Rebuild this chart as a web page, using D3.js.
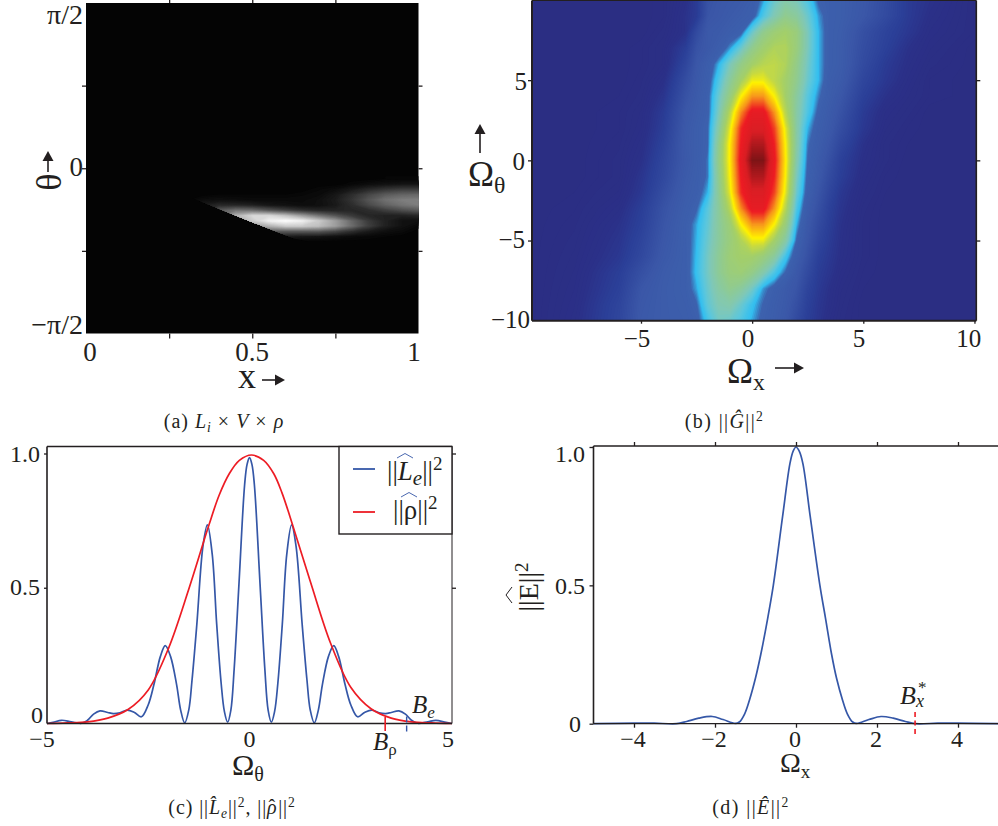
<!DOCTYPE html>
<html>
<head>
<meta charset="utf-8">
<style>
  body { margin: 0; background: #fff; }
  text { font-family: "Liberation Serif", serif; fill: #231f20; }
</style>
<script src="https://cdn.jsdelivr.net/npm/d3@7"></script>
</head>
<body>
<svg id="chart" width="998" height="826"></svg>
<script>
// panel a: bright patch of the gray image, everything else is black
const aCols = [0.3, 0.35, 0.4, 0.45, 0.5, 0.55, 0.6, 0.65, 0.7, 0.75, 0.8, 0.85, 0.9, 0.95, 1];
const aRows = [-0.1, -0.15, -0.2, -0.25, -0.3, -0.35, -0.4, -0.45, -0.5, -0.55, -0.6, -0.65, -0.7];
const aValues = [
  [0, 0, 0, 0, 0, 0, 0, 0, 0, 0, 0, 0, 0.01, 0.01, 0.01],
  [0, 0, 0, 0, 0, 0, 0, 0, 0, 0, 0.02, 0.04, 0.06, 0.07, 0.07],
  [0, 0, 0, 0, 0, 0, 0, 0, 0.02, 0.04, 0.09, 0.15, 0.2, 0.23, 0.23],
  [0, 0, 0.01, 0.01, 0.01, 0.01, 0.01, 0.02, 0.03, 0.08, 0.17, 0.27, 0.35, 0.39, 0.4],
  [0, 0.04, 0.05, 0.04, 0.03, 0.03, 0.03, 0.03, 0.05, 0.1, 0.2, 0.33, 0.44, 0.49, 0.5],
  [0, 0.1, 0.15, 0.14, 0.12, 0.08, 0.06, 0.04, 0.05, 0.09, 0.17, 0.28, 0.38, 0.45, 0.49],
  [0, 0.12, 0.35, 0.45, 0.42, 0.33, 0.25, 0.18, 0.14, 0.13, 0.14, 0.17, 0.24, 0.3, 0.35],
  [0, 0.1, 0.4, 0.7, 0.85, 0.85, 0.75, 0.6, 0.45, 0.33, 0.22, 0.14, 0.12, 0.12, 0.15],
  [0, 0.05, 0.3, 0.6, 0.8, 0.95, 1, 0.95, 0.8, 0.62, 0.4, 0.22, 0.12, 0.06, 0.05],
  [0, 0, 0.15, 0.4, 0.6, 0.7, 0.8, 0.8, 0.75, 0.62, 0.42, 0.24, 0.12, 0.06, 0.02],
  [0, 0, 0.05, 0.2, 0.35, 0.35, 0.35, 0.35, 0.35, 0.28, 0.18, 0.1, 0.05, 0.03, 0],
  [0, 0, 0, 0.05, 0.1, 0.1, 0.1, 0.08, 0.07, 0.05, 0.03, 0.02, 0.01, 0, 0],
  [0, 0, 0, 0, 0, 0, 0, 0, 0, 0, 0, 0, 0, 0, 0]
];
// lower cut-off of the patch
const aEdgeX = [0, 0.3, 0.328, 0.45, 0.623, 0.7, 1];
const aEdgeTheta = [-0.24, -0.26, -0.295, -0.45, -0.666, -0.72, -0.8];

// panel b: spectrum image, rows top to bottom
const bCols = [-10, -8, -6, -5, -4, -3, -2.5, -2, -1.5, -1, -0.5, 0, 0.5, 1, 1.5, 2, 2.5, 3, 3.5, 4, 5, 6, 7, 8, 10];
const bRows = [10, 9, 8, 7, 6, 5, 4, 3, 2, 1, 0, -1, -2, -3, -4, -5, -6, -7, -8, -9, -10];
const bValues = [
  [0, 0, 0, 0, 0.01, 0.05, 0.09, 0.18, 0.2, 0.21, 0.22, 0.24, 0.29, 0.36, 0.4, 0.38, 0.33, 0.265, 0.25, 0.24, 0.205, 0.155, 0.09, 0.06, 0.01],
  [0, 0, 0, 0, 0.01, 0.06, 0.09, 0.19, 0.205, 0.22, 0.235, 0.25, 0.33, 0.39, 0.44, 0.42, 0.36, 0.29, 0.25, 0.24, 0.2, 0.15, 0.09, 0.05, 0.01],
  [0, 0, 0, 0, 0.02, 0.06, 0.15, 0.21, 0.22, 0.24, 0.26, 0.36, 0.44, 0.48, 0.5, 0.47, 0.38, 0.3, 0.25, 0.235, 0.17, 0.12, 0.08, 0.04, 0.01],
  [0, 0, 0, 0.01, 0.03, 0.1, 0.18, 0.21, 0.24, 0.29, 0.36, 0.44, 0.49, 0.52, 0.52, 0.47, 0.38, 0.3, 0.25, 0.23, 0.16, 0.11, 0.06, 0.03, 0],
  [0, 0, 0, 0.01, 0.03, 0.13, 0.2, 0.24, 0.3, 0.38, 0.45, 0.5, 0.53, 0.54, 0.52, 0.45, 0.37, 0.3, 0.25, 0.23, 0.15, 0.09, 0.05, 0.02, 0],
  [0, 0, 0, 0.015, 0.05, 0.16, 0.21, 0.25, 0.33, 0.42, 0.5, 0.585, 0.585, 0.54, 0.5, 0.44, 0.36, 0.3, 0.24, 0.22, 0.13, 0.08, 0.04, 0.01, 0],
  [0, 0, 0.005, 0.02, 0.07, 0.18, 0.22, 0.26, 0.36, 0.46, 0.6, 0.7, 0.7, 0.6, 0.5, 0.42, 0.34, 0.28, 0.235, 0.2, 0.11, 0.06, 0.03, 0.01, 0],
  [0, 0, 0.01, 0.03, 0.09, 0.2, 0.23, 0.26, 0.38, 0.53, 0.71, 0.83, 0.83, 0.7, 0.53, 0.41, 0.33, 0.26, 0.22, 0.18, 0.09, 0.04, 0.02, 0, 0],
  [0, 0, 0.01, 0.035, 0.1, 0.21, 0.24, 0.27, 0.41, 0.58, 0.79, 0.87, 0.87, 0.77, 0.58, 0.41, 0.3, 0.245, 0.21, 0.16, 0.08, 0.03, 0.01, 0, 0],
  [0, 0, 0.015, 0.045, 0.115, 0.215, 0.24, 0.27, 0.44, 0.61, 0.81, 0.93, 0.93, 0.8, 0.6, 0.41, 0.28, 0.235, 0.19, 0.135, 0.06, 0.02, 0.005, 0, 0],
  [0, 0, 0.02, 0.055, 0.13, 0.21, 0.24, 0.28, 0.45, 0.61, 0.83, 0.98, 0.98, 0.82, 0.61, 0.4, 0.27, 0.22, 0.17, 0.11, 0.05, 0.02, 0, 0, 0],
  [0, 0, 0.02, 0.07, 0.14, 0.22, 0.245, 0.28, 0.44, 0.6, 0.81, 0.93, 0.93, 0.8, 0.6, 0.38, 0.26, 0.21, 0.15, 0.1, 0.04, 0.01, 0, 0, 0],
  [0, 0.005, 0.03, 0.08, 0.16, 0.23, 0.25, 0.3, 0.43, 0.58, 0.79, 0.87, 0.87, 0.77, 0.58, 0.36, 0.25, 0.19, 0.13, 0.08, 0.03, 0.005, 0, 0, 0],
  [0, 0.01, 0.045, 0.1, 0.18, 0.24, 0.27, 0.34, 0.42, 0.53, 0.71, 0.83, 0.83, 0.7, 0.53, 0.33, 0.23, 0.17, 0.11, 0.07, 0.02, 0, 0, 0, 0],
  [0, 0.015, 0.06, 0.11, 0.19, 0.25, 0.295, 0.35, 0.42, 0.48, 0.6, 0.7, 0.7, 0.6, 0.47, 0.3, 0.21, 0.15, 0.1, 0.06, 0.015, 0, 0, 0, 0],
  [0, 0.02, 0.07, 0.125, 0.2, 0.25, 0.3, 0.36, 0.42, 0.47, 0.52, 0.585, 0.585, 0.5, 0.41, 0.27, 0.195, 0.13, 0.09, 0.055, 0.015, 0, 0, 0, 0],
  [0, 0.025, 0.08, 0.14, 0.21, 0.25, 0.305, 0.37, 0.43, 0.48, 0.5, 0.5, 0.47, 0.42, 0.32, 0.24, 0.175, 0.11, 0.08, 0.05, 0.015, 0, 0, 0, 0],
  [0, 0.03, 0.1, 0.17, 0.225, 0.25, 0.31, 0.37, 0.43, 0.47, 0.48, 0.45, 0.4, 0.33, 0.27, 0.21, 0.15, 0.095, 0.07, 0.04, 0.01, 0, 0, 0, 0],
  [0, 0.035, 0.11, 0.195, 0.23, 0.25, 0.295, 0.36, 0.41, 0.44, 0.42, 0.37, 0.29, 0.255, 0.22, 0.19, 0.125, 0.085, 0.055, 0.03, 0.005, 0, 0, 0, 0],
  [0, 0.04, 0.125, 0.205, 0.23, 0.245, 0.27, 0.35, 0.39, 0.4, 0.36, 0.31, 0.27, 0.24, 0.215, 0.17, 0.11, 0.075, 0.05, 0.025, 0, 0, 0, 0, 0],
  [0, 0.045, 0.13, 0.21, 0.23, 0.24, 0.255, 0.32, 0.37, 0.36, 0.33, 0.295, 0.26, 0.235, 0.205, 0.15, 0.1, 0.07, 0.04, 0.02, 0, 0, 0, 0, 0]
];
const bLevels = [0, 0.05, 0.1, 0.2, 0.27, 0.3, 0.34, 0.38, 0.44, 0.5, 0.55, 0.6, 0.7, 0.8, 0.88, 0.95, 0.98];
const bColors = ["#2b2e83", "#2b3088", "#2b3f98", "#3b58a8", "#3d62ae", "#33bff0", "#5cc7dc", "#7fc8b8", "#92cb8c", "#a4cf68", "#c8da40", "#fff200", "#f7941d", "#ed1c24", "#d81e24", "#9a161a", "#7a1416"];

// panel c
const leX = [-5, -4.85, -4.64, -4.4, -4.14, -4, -3.85, -3.69, -3.5, -3.36, -3.2, -3.02, -2.85, -2.67, -2.5, -2.36, -2.2, -2.08, -1.95, -1.8, -1.7, -1.6, -1.5, -1.42, -1.3, -1.15, -1.04, -0.92, -0.81, -0.7, -0.62, -0.54, -0.46, -0.38, -0.26, -0.12, -0.06, 0,
  0.06, 0.12, 0.26, 0.38, 0.46, 0.54, 0.62, 0.7, 0.81, 0.92, 1.04, 1.15, 1.3, 1.42, 1.5, 1.6, 1.7, 1.8, 1.95, 2.08, 2.2, 2.36, 2.5, 2.67, 2.85, 3.02, 3.2, 3.36, 3.5, 3.69, 3.85, 4, 4.15, 4.4, 4.6, 4.85, 5];
const leY = [0, 0.004, 0.012, 0.006, 0.001, 0.012, 0.035, 0.047, 0.041, 0.037, 0.04, 0.05, 0.042, 0.025, 0.07, 0.145, 0.25, 0.29, 0.25, 0.145, 0.05, 0.002, 0.05, 0.16, 0.37, 0.66, 0.74, 0.63, 0.37, 0.15, 0.045, 0.005, 0.05, 0.2, 0.52, 0.89, 0.965, 0.99,
  0.965, 0.89, 0.52, 0.2, 0.05, 0.005, 0.045, 0.15, 0.37, 0.63, 0.74, 0.66, 0.37, 0.16, 0.05, 0.002, 0.05, 0.145, 0.25, 0.29, 0.25, 0.145, 0.07, 0.025, 0.042, 0.05, 0.04, 0.037, 0.041, 0.047, 0.035, 0.012, 0.001, 0.006, 0.012, 0.004, 0];
const rhoX = [-5, -4.5, -4, -3.5, -3, -2.5, -2, -1.5, -1, -0.75, -0.5, -0.25, 0.05, 0.35, 0.6, 0.8, 1, 1.5, 2, 2.5, 3, 3.5, 4, 4.5, 5];
const rhoY = [0, 0.002, 0.006, 0.02, 0.052, 0.125, 0.28, 0.5, 0.74, 0.85, 0.93, 0.98, 1, 0.98, 0.93, 0.86, 0.77, 0.53, 0.3, 0.135, 0.055, 0.02, 0.006, 0.002, 0];
const bRho = 3.35;
const bE = 3.88;

// panel d
const eX = [-5, -4, -3.5, -2.95, -2.7, -2.4, -2.07, -1.8, -1.5, -1.4, -1.27, -1.15, -1, -0.87, -0.7, -0.56, -0.33, -0.15, -0.07, 0, 0.08, 0.17, 0.35, 0.59, 0.73, 0.88, 1, 1.15, 1.27, 1.4, 1.5, 1.8, 2.1, 2.4, 2.7, 2.95, 3.5, 4, 5];
const eY = [0, 0.002, 0.002, 0, 0.008, 0.02, 0.026, 0.015, 0.001, 0.006, 0.035, 0.085, 0.165, 0.25, 0.38, 0.5, 0.75, 0.94, 0.985, 1, 0.985, 0.94, 0.75, 0.5, 0.38, 0.25, 0.165, 0.085, 0.035, 0.006, 0.001, 0.015, 0.026, 0.02, 0.008, 0, 0.002, 0.002, 0];
const bX = 2.94;

const ink = "#231f20";
const blue = "#3557a7";
const red = "#ed1c24";
const svg = d3.select("#chart");

// text made of pieces, piece = [string, {i, sub, sup, size, dx}]
function rich(parent, x, y, parts, size, anchor) {
  const t = parent.append("text").attr("x", x).attr("y", y)
    .attr("font-size", size).attr("text-anchor", anchor || "start");
  let shift = 0;
  parts.forEach(function(p) {
    const o = p[1] || {};
    const s = o.sub ? size * 0.2 : (o.sup ? -size * 0.36 : 0);
    t.append("tspan")
      .attr("dx", o.dx || 0)
      .attr("dy", s - shift)
      .attr("font-size", o.size || ((o.sub || o.sup) ? size * 0.68 : size))
      .attr("font-style", o.i ? "italic" : "normal")
      .text(p[0]);
    shift = s;
  });
  return t;
}

function arrow(x1, y1, x2, y2) {
  const a = Math.atan2(y2 - y1, x2 - x1);
  const len = 10, w = 5.5;
  const bx = x2 - len * Math.cos(a), by = y2 - len * Math.sin(a);
  svg.append("line").attr("x1", x1).attr("y1", y1).attr("x2", bx).attr("y2", by)
    .attr("stroke", ink).attr("stroke-width", 1.6);
  svg.append("path").attr("fill", ink).attr("d", "M" + x2 + "," + y2 +
    "L" + (bx + w * Math.sin(a)) + "," + (by - w * Math.cos(a)) +
    "L" + (bx - w * Math.sin(a)) + "," + (by + w * Math.cos(a)) + "Z");
}

function frameLine(x1, y1, x2, y2, w) {
  svg.append("line").attr("x1", x1).attr("y1", y1).attr("x2", x2).attr("y2", y2)
    .attr("stroke", ink).attr("stroke-width", w);
}

// tick marks only, labels are placed by hand like in the figure
function axis(gen, tx, ty) {
  const g = svg.append("g").attr("transform", "translate(" + tx + "," + ty + ")").call(gen);
  g.select(".domain").remove();
  g.selectAll("line").attr("stroke", ink).attr("stroke-width", 1.3);
  return g;
}

// filled contours of a value grid, placed through the data scales
function contourImage(parent, cols, rows, values, x, y, color, thresholds) {
  const flat = values.flat();
  const px = d3.scaleLinear().domain(d3.range(cols.length)).range(cols.map(x));
  const py = d3.scaleLinear().domain(d3.range(rows.length)).range(rows.map(y));
  const projection = d3.geoTransform({
    point: function(a, b) { this.stream.point(px(a - 0.5), py(b - 0.5)); }
  });
  const path = d3.geoPath(projection);
  const bands = d3.contours().size([cols.length, rows.length]).thresholds(thresholds)(flat);
  parent.selectAll("path.band").data(bands).enter().append("path")
    .attr("class", "band")
    .attr("d", path)
    .attr("fill", function(d) { return color(d.value); });
}

// ---------- panel a ----------
const ax = d3.scaleLinear().domain([0, 1]).range([86, 418.5]);
const ay = d3.scaleLinear().domain([-Math.PI / 2, Math.PI / 2]).range([333.5, 3]);
svg.append("clipPath").attr("id", "clipA").append("path")
  .attr("d", d3.line()(
    aEdgeX.map(function(d, i) { return [ax(d), ay(aEdgeTheta[i])]; })
      .concat([[ax(1), ay(Math.PI / 2)], [ax(0), ay(Math.PI / 2)]])
  ));
svg.append("rect").attr("x", ax(0)).attr("y", ay(Math.PI / 2))
  .attr("width", ax(1) - ax(0)).attr("height", ay(-Math.PI / 2) - ay(Math.PI / 2))
  .attr("fill", "#040404");
const aGroup = svg.append("g").attr("clip-path", "url(#clipA)");
const grayScale = d3.scaleLinear().domain([0, 1]).range(["#040404", "#ffffff"]);
contourImage(aGroup, aCols, aRows, aValues, ax, ay, grayScale, d3.range(0.01, 1, 0.0125));

const aXticks = [0.25, 0.5, 0.75];
axis(d3.axisTop(ax).tickValues(aXticks).tickSize(4).tickFormat(""), 0, ay(Math.PI / 2));
axis(d3.axisBottom(ax).tickValues(aXticks).tickSize(5).tickFormat(""), 0, ay(-Math.PI / 2));
const aYticks = [-Math.PI / 4, 0, Math.PI / 4];
axis(d3.axisLeft(ay).tickValues(aYticks).tickSize(4).tickFormat(""), ax(0), 0);
axis(d3.axisRight(ay).tickValues(aYticks).tickSize(4).tickFormat(""), ax(1), 0);

const aXlabels = ["0", "0.5", "1"];
const aXpos = [90, 252, 414];
aXlabels.forEach(function(s, i) {
  rich(svg, aXpos[i], 361, [[s]], 27, "middle");
});
rich(svg, 83, 24, [["π/2"]], 28, "end");
rich(svg, 83, 176, [["0"]], 27, "end");
rich(svg, 83, 334, [["−π/2"]], 28, "end");
rich(svg, 238, 388, [["x"]], 36);
arrow(262, 380, 285, 380);
rich(svg, 0, 0, [["θ"]], 36, "middle").attr("transform", "translate(61,182) rotate(-90)");
arrow(48, 172, 48, 151);
rich(svg, 224, 428, [["(a) "], ["L", { i: 1 }], ["i", { i: 1, sub: 1 }], [" × "], ["V", { i: 1 }], [" × "], ["ρ", { i: 1 }]], 20, "middle")
  .attr("letter-spacing", 1);

// ---------- panel b ----------
const bx = d3.scaleLinear().domain([-5, 5]).range([641, 863.3]);
const by = d3.scaleLinear().domain([-10, 10]).range([320.7, 0]);
const bLeft = 532, bRight = 976.3, bTop = 0.5, bBottom = 320.7;
svg.append("clipPath").attr("id", "clipB").append("rect")
  .attr("x", bLeft).attr("y", bTop).attr("width", bRight - bLeft).attr("height", bBottom - bTop);
const bGroup = svg.append("g").attr("clip-path", "url(#clipB)");
const jet = d3.scaleLinear().domain(bLevels).range(bColors);
bGroup.append("rect").attr("x", bLeft).attr("y", bTop)
  .attr("width", bRight - bLeft).attr("height", bBottom - bTop).attr("fill", bColors[0]);
contourImage(bGroup, bCols, bRows, bValues, bx, by, jet, d3.range(0.005, 1, 0.006));

frameLine(bLeft, bBottom, bRight, bBottom, 2);
frameLine(bLeft, bTop, bLeft, bBottom, 2);
frameLine(bLeft, bTop, bRight, bTop, 1.2);
frameLine(bRight, bTop, bRight, bBottom, 1.6);

const bXticks = [-5, 0, 5, 10];
const bYticks = [-5, 0, 5];
axis(d3.axisLeft(by).tickValues(bYticks).tickSize(4).tickFormat(""), bLeft, 0);
axis(d3.axisRight(by).tickValues(bYticks).tickSize(4).tickFormat(""), bRight, 0);
axis(d3.axisBottom(bx).tickValues(bXticks).tickSize(3).tickFormat(""), 0, bBottom);

const bYlabels = ["5", "0", "−5", "−10"];
const bYpos = [90, 170, 248, 328];
const bYright = [527, 525, 525, 530];
bYlabels.forEach(function(s, i) {
  rich(svg, bYright[i], bYpos[i], [[s]], 25, "end");
});
const bXlabels = ["−5", "0", "5", "10"];
const bXpos = [637, 748, 859, 968.7];
bXlabels.forEach(function(s, i) {
  rich(svg, bXpos[i], 347, [[s]], 25, "middle");
});
rich(svg, 727, 383, [["Ω"], ["x", { sub: 1 }]], 35);
arrow(775, 368, 804, 368);
rich(svg, 468, 186, [["Ω"], ["θ", { sub: 1 }]], 35);
arrow(480, 153, 480, 124);
rich(svg, 724.5, 428, [["(b) "], ["||"], ["Ĝ", { i: 1 }], ["||"], ["2", { sup: 1 }]], 20, "middle")
  .attr("letter-spacing", 1.4);

// ---------- panel c ----------
const cx = d3.scaleLinear().domain([-5, 5]).range([47, 452]);
const cy = d3.scaleLinear().domain([0, 1]).range([723.5, 455]);
const cTop = 446.5;
const line = d3.line().curve(d3.curveCatmullRom.alpha(0.5));
svg.append("path")
  .attr("d", line(leX.map(function(d, i) { return [cx(d), cy(leY[i])]; })))
  .attr("fill", "none").attr("stroke", blue).attr("stroke-width", 1.7);
svg.append("path")
  .attr("d", line(rhoX.map(function(d, i) { return [cx(d), cy(rhoY[i])]; })))
  .attr("fill", "none").attr("stroke", red).attr("stroke-width", 1.7);
frameLine(cx(-5), cTop, 452, cTop, 1.6);
frameLine(cx(-5), cTop, cx(-5), cy(0), 1.6);
frameLine(cx(-5), cy(0), cx(5), cy(0), 1.6);
frameLine(cx(5), cTop, cx(5), cy(0), 1);

const cYticks = [0.5, 1];
axis(d3.axisLeft(cy).tickValues(cYticks).tickSize(3).tickFormat(""), cx(-5), -1.5);
axis(d3.axisRight(cy).tickValues(cYticks).tickSize(4).tickFormat(""), cx(5), -1.5);

const cYlabels = ["1.0", "0.5", "0"];
const cYpos = [462, 595, 723];
const cYright = [40, 40, 43];
cYlabels.forEach(function(s, i) {
  rich(svg, cYright[i], cYpos[i], [[s]], 24, "end");
});
const cXlabels = ["−5", "0", "5"];
const cXpos = [42, 249.5, 448];
cXlabels.forEach(function(s, i) {
  rich(svg, cXpos[i], 747, [[s]], 24, "middle");
});
rich(svg, 232, 775, [["Ω"], ["θ", { sub: 1, size: 20 }]], 30);

// bandwidth markers
svg.append("line").attr("x1", cx(bRho)).attr("x2", cx(bRho)).attr("y1", 717).attr("y2", 731)
  .attr("stroke", red).attr("stroke-width", 1.6);
svg.append("line").attr("x1", cx(bE)).attr("x2", cx(bE)).attr("y1", 716.5).attr("y2", 732)
  .attr("stroke", blue).attr("stroke-width", 1.4).attr("stroke-dasharray", "6 3");
rich(svg, 373, 750, [["B", { i: 1 }], ["ρ", { sub: 1 }]], 25);
rich(svg, 412, 713, [["B", { i: 1 }], ["e", { i: 1, sub: 1 }]], 25);

// legend
svg.append("rect").attr("x", 339).attr("y", cTop).attr("width", 113).attr("height", 87.5)
  .attr("fill", "#fff").attr("stroke", ink).attr("stroke-width", 1.4);
svg.append("line").attr("x1", 353).attr("x2", 375).attr("y1", 469).attr("y2", 469)
  .attr("stroke", blue).attr("stroke-width", 1.8);
svg.append("line").attr("x1", 353).attr("x2", 375).attr("y1", 512).attr("y2", 512)
  .attr("stroke", red).attr("stroke-width", 1.8);
rich(svg, 387, 480, [["||"], ["L", { i: 1 }], ["e", { i: 1, sub: 1, size: 21 }], ["||"], ["2", { sup: 1, size: 19 }]], 27);
rich(svg, 393, 519, [["||"], ["ρ"], ["||"], ["2", { sup: 1, size: 19 }]], 27);
svg.append("path").attr("d", "M397,458L405,453.5L413,458M401,497L409,492.5L417,497")
  .attr("fill", "none").attr("stroke", blue).attr("stroke-width", 0.9);

rich(svg, 232, 814, [["(c) "], ["||"], ["L̂", { i: 1 }], ["e", { i: 1, sub: 1 }], ["||"], ["2", { sup: 1 }], [", ||"], ["ρ", { i: 1 }], ["ˆ", { dx: -9 }], ["||", { dx: 2 }], ["2", { sup: 1 }]], 20, "middle")
  .attr("letter-spacing", 0.9);

// ---------- panel d ----------
const dx = d3.scaleLinear().domain([-5, 5]).range([593.5, 998.5]);
const dy = d3.scaleLinear().domain([0, 1]).range([723.7, 447]);
const dTop = 446;
svg.append("path")
  .attr("d", line(eX.map(function(d, i) { return [dx(d), dy(eY[i])]; })))
  .attr("fill", "none").attr("stroke", blue).attr("stroke-width", 1.7);
frameLine(dx(-5), dTop, 998, dTop, 1.6);
frameLine(dx(-5), dTop, dx(-5), dy(0), 1.6);
frameLine(dx(-5), dy(0), 998, dy(0), 1.3);
svg.append("line").attr("x1", dx(bX)).attr("x2", dx(bX)).attr("y1", 712).attr("y2", 736)
  .attr("stroke", red).attr("stroke-width", 1.6).attr("stroke-dasharray", "5 3.5");

const dXticks = [-4, -2, 0, 2, 4];
axis(d3.axisTop(dx).tickValues(dXticks).tickSize(4).tickFormat(""), 0, dTop);
axis(d3.axisBottom(dx).tickValues(dXticks).tickSize(4).tickFormat(""), 0, dy(0));
const dYticks = [0, 0.5, 1];
axis(d3.axisLeft(dy).tickValues(dYticks).tickSize(4).tickFormat(""), dx(-5), 0);

const dYlabels = ["1.0", "0.5", "0"];
const dYpos = [462, 594, 732];
const dYright = [585, 585, 581];
dYlabels.forEach(function(s, i) {
  rich(svg, dYright[i], dYpos[i], [[s]], 24, "end");
});
const dXlabels = ["−4", "−2", "0", "2", "4"];
dXlabels.forEach(function(s, i) {
  rich(svg, dx(dXticks[i]) - 1, 747, [[s]], 24, "middle");
});
rich(svg, 780, 772, [["Ω"], ["x", { sub: 1 }]], 28);
rich(svg, 900, 704, [["B", { i: 1 }]], 26);
rich(svg, 918, 693, [["*"]], 17);
rich(svg, 916, 707, [["x", { i: 1 }]], 18);

const dLabel = svg.append("g").attr("transform", "translate(538,587) rotate(-90)");
rich(dLabel, 0, 0, [["||"], ["E"], ["||"], ["2", { sup: 1, size: 19 }]], 28, "middle");
dLabel.append("path").attr("d", "M-16,-26L-8,-32L0,-26")
  .attr("fill", "none").attr("stroke", ink).attr("stroke-width", 1);

rich(svg, 751, 814, [["(d) "], ["||"], ["Ê", { i: 1 }], ["||"], ["2", { sup: 1 }]], 20, "middle")
  .attr("letter-spacing", 1.4);
</script>
</body>
</html>
